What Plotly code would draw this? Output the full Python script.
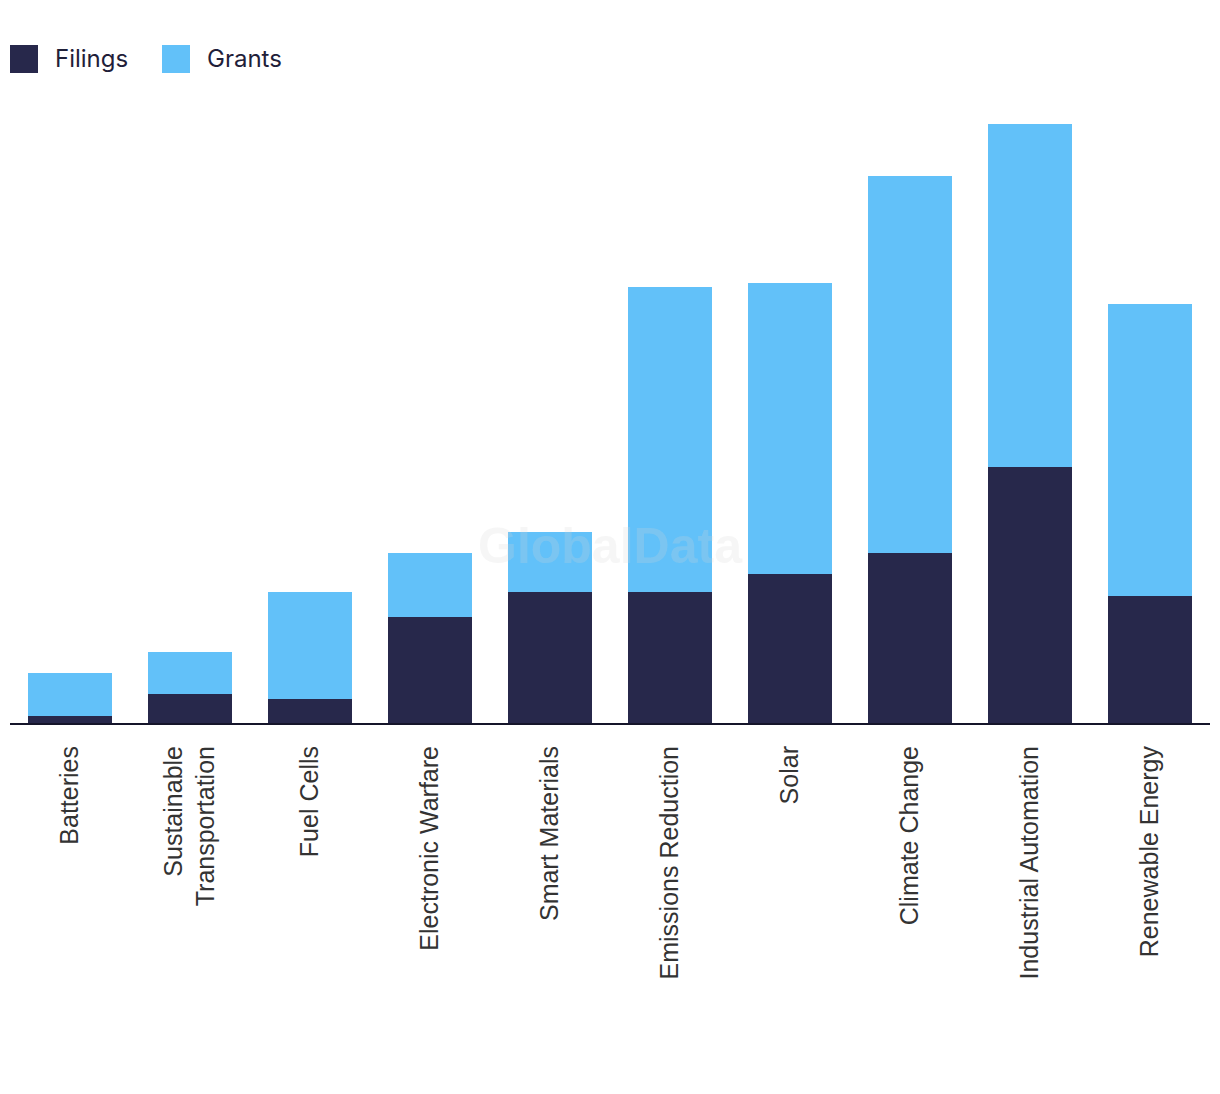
import plotly.graph_objects as go

categories = ["Batteries", "Sustainable<br>Transportation", "Fuel Cells", "Electronic Warfare",
              "Smart Materials", "Emissions Reduction", "Solar", "Climate Change",
              "Industrial Automation", "Renewable Energy"]
filings = [7, 29, 24, 106, 131, 131, 149, 170, 256, 127]
grants = [43, 42, 107, 64, 60, 305, 291, 377, 343, 292]

FIL_COLOR = "#27284b"
GR_COLOR = "#62c1f9"

fig = go.Figure()
fig.add_trace(go.Bar(x=categories, y=filings, name="Filings", marker_color=FIL_COLOR,
                     marker_line_width=0))
fig.add_trace(go.Bar(x=categories, y=grants, name="Grants", marker_color=GR_COLOR,
                     marker_line_width=0))

W, H = 1220, 1094
ml, mr, mt, mb = 10, 10, 100, 371
PW, PH = W - ml - mr, H - mt - mb

fig.update_layout(
    barmode="stack",
    bargap=0.3,
    width=W, height=H,
    margin=dict(l=ml, r=mr, t=mt, b=mb, pad=0),
    paper_bgcolor="white",
    plot_bgcolor="white",
    showlegend=False,
    font=dict(family="Liberation Sans, Arial, sans-serif", color="#333333"),
)
fig.update_xaxes(
    showline=True, linecolor="#15152a", linewidth=2,
    tickangle=-90, tickfont=dict(size=25, color="#333333"),
    ticks="", ticklabelstandoff=11, showgrid=False, zeroline=False,
)
fig.update_yaxes(visible=False, range=[0, 623], showgrid=False, zeroline=False)

# custom legend
for (x0, label, color) in [(10, "Filings", FIL_COLOR), (162, "Grants", GR_COLOR)]:
    fig.add_shape(type="rect", xref="paper", yref="paper",
                  x0=(x0 - ml) / PW, x1=(x0 + 28 - ml) / PW,
                  y0=(H - mb - 73) / PH, y1=(H - mb - 45) / PH,
                  fillcolor=color, line_width=0)
    fig.add_annotation(xref="paper", yref="paper",
                       x=(x0 + 43 - ml) / PW, y=(H - mb - 59) / PH,
                       text=label, showarrow=False, xanchor="left", yanchor="middle",
                       font=dict(family="Inter, Roboto, sans-serif", size=24, color="#1f2039"))

# watermark
fig.add_annotation(xref="paper", yref="paper", x=0.5,
                   y=(H - mb - 576) / PH,
                   text="<b>GlobalData</b>", showarrow=False,
                   font=dict(family="Liberation Sans, Arial, sans-serif", size=50,
                             color="rgba(215,215,215,0.22)"))

fig.write_html("out.html")
